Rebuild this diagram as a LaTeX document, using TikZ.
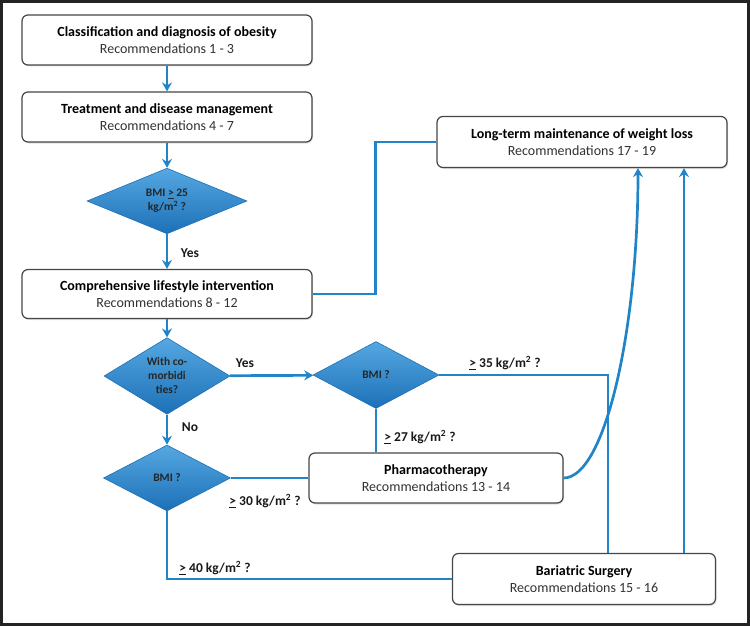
\documentclass[tikz,border=0pt]{standalone}
\usepackage{fontspec}
\setmainfont{Carlito}
\usetikzlibrary{shapes.geometric,arrows.meta,shadows}

\definecolor{flowblue}{RGB}{34,132,200}
\definecolor{diamtop}{RGB}{86,168,226}
\definecolor{diambot}{RGB}{28,112,182}
\definecolor{boxgray}{RGB}{70,70,70}
\definecolor{txtgray}{RGB}{50,50,50}
\definecolor{framegray}{RGB}{35,35,35}

\newcommand{\rectext}[2]{\textbf{#1}\\{\color{txtgray}Recommendations #2}}

\tikzset{
  recbox/.style={draw=boxgray, line width=1.2pt, rounded corners=6pt, fill=white,
    align=center, font=\fontsize{14}{17}\selectfont, inner sep=2pt,
    drop shadow={shadow xshift=1pt, shadow yshift=-1.5pt, opacity=0.25}},
  decide/.style={diamond, draw=diambot, line width=0.6pt, top color=diamtop, bottom color=diambot,
    align=center, inner sep=0pt, font=\fontsize{11.5}{14}\selectfont\bfseries, text=black!85},
  flow/.style={draw=flowblue, line width=2.7pt, -{Stealth[length=9pt,width=10pt,inset=3pt]}},
  link/.style={draw=flowblue, line width=2.7pt},
  cond/.style={font=\fontsize{13.5}{15}\selectfont\bfseries, text=black!90}
}

\begin{document}
\begin{tikzpicture}[x=1pt,y=-1pt]
    \useasboundingbox (0,0) rectangle (750,626);
    \draw[framegray, line width=3pt] (1.5,1.5) rectangle (748.5,624.5);

    % Boxes
    \node[recbox, minimum width=290pt, minimum height=50pt] (classif) at (167,40) {\rectext{Classification and diagnosis of obesity}{1 - 3}};
    \node[recbox, minimum width=290pt, minimum height=50pt] (treat) at (167,117) {\rectext{Treatment and disease management}{4 - 7}};
    \node[recbox, minimum width=290pt, minimum height=49pt] (lifestyle) at (167,294) {\rectext{Comprehensive lifestyle intervention}{8 - 12}};
    \node[recbox, minimum width=290pt, minimum height=51pt] (maint) at (582,142) {\rectext{Long-term maintenance of weight loss}{17 - 19}};
    \node[recbox, minimum width=254pt, minimum height=50pt] (pharma) at (436,478) {\rectext{Pharmacotherapy}{13 - 14}};
    \node[recbox, minimum width=263pt, minimum height=51pt] (bariatric) at (584,579) {\rectext{Bariatric Surgery}{15 - 16}};

    % Decisions
    \node[decide, minimum width=160pt, minimum height=64pt] (bmi25) at (167,201) {BMI \underline{>} 25\\kg/m\textsuperscript{2} ?};
    \node[decide, minimum width=126pt, minimum height=68pt] (comorb) at (167,376) {With co-\\morbidi\\ties?};
    \node[decide, minimum width=126pt, minimum height=67pt] (bmiyes) at (376,375) {BMI ?};
    \node[decide, minimum width=127pt, minimum height=66pt] (bmino) at (167,478) {BMI ?};

    % Main column
    \draw[flow] (classif) -- (treat);
    \draw[flow] (treat) -- (bmi25);
    \draw[flow] (bmi25) -- (lifestyle);
    \draw[flow] (lifestyle) -- (comorb);
    \draw[flow] (comorb) -- (bmino);
    \draw[flow] (comorb) -- (bmiyes);
    \node[cond] (yes1) at (190,253) {Yes};
    \node[cond] (yes2) at (245,363) {Yes};
    \node[cond] (no1) at (190,427) {No};

    % Lifestyle to maintenance
    \draw[link] (lifestyle.east) -- ++(63,0) |- (maint.west);

    % With co-morbidities
    \coordinate (bend35) at (608,375);
    \draw[link] (bmiyes.east) -- (bend35) -- (bend35 |- bariatric.north);
    \draw[link] (bmiyes.south) -- (bmiyes.south |- pharma.north);
    \node[cond] (c35) at (505,363) {\underline{>} 35 kg/m\textsuperscript{2} ?};
    \node[cond] (c27) at (420,437) {\underline{>} 27 kg/m\textsuperscript{2} ?};

    % Without co-morbidities
    \draw[link] (bmino.east) -- (pharma.west);
    \draw[link] (bmino.south) |- (bariatric.west);
    \node[cond] (c30) at (265,501) {\underline{>} 30 kg/m\textsuperscript{2} ?};
    \node[cond] (c40) at (215,568) {\underline{>} 40 kg/m\textsuperscript{2} ?};

    % Into maintenance
    \draw[flow] (pharma.east) .. controls (605,478) and (638,330) .. ([xshift=56pt]maint.south);
    \draw[flow] ([xshift=100pt]bariatric.north) -- ([xshift=100pt]bariatric.north |- maint.south);
\end{tikzpicture}
\end{document}
